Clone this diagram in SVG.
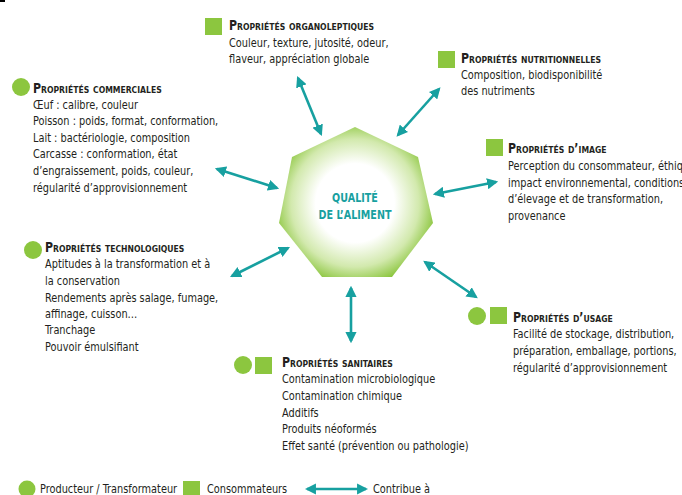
<svg xmlns="http://www.w3.org/2000/svg" width="682" height="495" viewBox="0 0 682 495">
<defs>
<style>
text{font-family:"DejaVu Sans Condensed","Liberation Sans",sans-serif;fill:#231f20;font-size:12px}
.t{font-variant:small-caps;font-weight:bold;font-size:13.5px}
.g{fill:#8cc63f}
.c{stroke:#17a0a0;stroke-width:2.6;fill:none;marker-start:url(#ah);marker-end:url(#ah)}
.q{fill:#17a0a0;font-weight:bold;font-size:13px;text-anchor:middle}
</style>
<marker id="ah" viewBox="0 0 10 10" refX="8" refY="5" markerWidth="4.3" markerHeight="4.3" orient="auto-start-reverse" markerUnits="strokeWidth">
<path d="M0,0 L10,5 L0,10 z" fill="#17a0a0"/>
</marker>
<radialGradient id="hg" cx="355" cy="203" r="82" gradientUnits="userSpaceOnUse">
<stop offset="0" stop-color="#ffffff"/>
<stop offset="0.48" stop-color="#ffffff"/>
<stop offset="0.78" stop-color="#d2e9ad"/>
<stop offset="1" stop-color="#8cc63f"/>
</radialGradient>
</defs>
<rect x="0" y="0" width="5" height="2" fill="#000"/>

<g id="center">
<polygon points="355,127 418,157 433,223 392,277 322,277 279,223 292,157" fill="url(#hg)"/>
<g transform="translate(355 0) scale(0.82 1)">
<text class="q" x="0" y="202">QUALITÉ</text>
<text class="q" x="0" y="219">DE L’ALIMENT</text>
</g>
</g>

<g id="connectors">
<line class="c" x1="298" y1="78" x2="321" y2="134"/>
<line class="c" x1="398" y1="135" x2="439" y2="89"/>
<line class="c" x1="435" y1="194" x2="496" y2="182"/>
<line class="c" x1="217" y1="169" x2="277" y2="188"/>
<line class="c" x1="232" y1="276" x2="288" y2="248"/>
<line class="c" x1="351" y1="288" x2="351" y2="341"/>
<line class="c" x1="425" y1="262" x2="476" y2="297"/>
<line class="c" x1="307" y1="489" x2="366" y2="489"/>
</g>

<g id="organoleptiques">
<rect class="g" x="205" y="18" width="17" height="17"/>
<g transform="translate(229 0) scale(0.905 1)">
<text class="t" x="0" y="30">Propriétés organoleptiques</text>
<text x="0" y="47">Couleur, texture, jutosité, odeur,</text>
<text x="0" y="63">flaveur, appréciation globale</text>
</g>
</g>

<g id="nutritionnelles">
<rect class="g" x="438" y="51" width="17" height="17"/>
<g transform="translate(461 0) scale(0.905 1)">
<text class="t" x="0" y="63">Propriétés nutritionnelles</text>
<text x="0" y="79">Composition, biodisponibilité</text>
<text x="0" y="95">des nutriments</text>
</g>
</g>

<g id="image">
<rect class="g" x="486" y="139" width="17" height="17"/>
<g transform="translate(508 0) scale(0.905 1)">
<text class="t" x="0" y="153">Propriétés d’image</text>
<text x="0" y="170">Perception du consommateur, éthique,</text>
<text x="0" y="187">impact environnemental, conditions</text>
<text x="0" y="203">d’élevage et de transformation,</text>
<text x="0" y="220">provenance</text>
</g>
</g>

<g id="commerciales">
<circle class="g" cx="21" cy="87" r="9"/>
<g transform="translate(33 0) scale(0.905 1)">
<text class="t" x="0" y="93">Propriétés commerciales</text>
<text x="0" y="109">Œuf : calibre, couleur</text>
<text x="0" y="125">Poisson : poids, format, conformation,</text>
<text x="0" y="142">Lait : bactériologie, composition</text>
<text x="0" y="158">Carcasse : conformation, état</text>
<text x="0" y="175">d’engraissement, poids, couleur,</text>
<text x="0" y="192">régularité d’approvisionnement</text>
</g>
</g>

<g id="technologiques">
<circle class="g" cx="33" cy="250" r="9"/>
<g transform="translate(45 0) scale(0.905 1)">
<text class="t" x="0" y="252">Propriétés technologiques</text>
<text x="0" y="268">Aptitudes à la transformation et à</text>
<text x="0" y="285">la conservation</text>
<text x="0" y="302">Rendements après salage, fumage,</text>
<text x="0" y="318">affinage, cuisson…</text>
<text x="0" y="334">Tranchage</text>
<text x="0" y="351">Pouvoir émulsifiant</text>
</g>
</g>

<g id="usage">
<circle class="g" cx="477" cy="316" r="9"/>
<rect class="g" x="490" y="307" width="17" height="17"/>
<g transform="translate(513 0) scale(0.905 1)">
<text class="t" x="0" y="322">Propriétés d’usage</text>
<text x="0" y="338">Facilité de stockage, distribution,</text>
<text x="0" y="355">préparation, emballage, portions,</text>
<text x="0" y="372">régularité d’approvisionnement</text>
</g>
</g>

<g id="sanitaires">
<circle class="g" cx="243" cy="365" r="9"/>
<rect class="g" x="255" y="357" width="17" height="17"/>
<g transform="translate(282 0) scale(0.905 1)">
<text class="t" x="0" y="367">Propriétés sanitaires</text>
<text x="0" y="383">Contamination microbiologique</text>
<text x="0" y="400">Contamination chimique</text>
<text x="0" y="417">Additifs</text>
<text x="0" y="433">Produits néoformés</text>
<text x="0" y="450">Effet santé (prévention ou pathologie)</text>
</g>
</g>

<g id="legend">
<circle class="g" cx="27" cy="489" r="8.5"/>
<text x="0" y="493" transform="translate(40 0) scale(0.905 1)">Producteur / Transformateur</text>
<rect class="g" x="183" y="481" width="17" height="17"/>
<text x="0" y="493" transform="translate(207 0) scale(0.905 1)">Consommateurs</text>
<text x="0" y="493" transform="translate(373 0) scale(0.905 1)">Contribue à</text>
</g>
</svg>
